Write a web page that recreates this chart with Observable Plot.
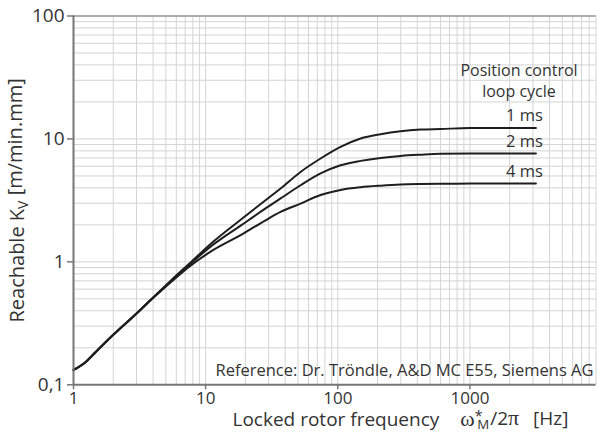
<!DOCTYPE html>
<html><head><meta charset="utf-8">
<script src="https://cdn.jsdelivr.net/npm/d3@7"></script>
<script src="https://cdn.jsdelivr.net/npm/@observablehq/plot@0.6"></script>
<style>body{margin:0;background:#fff}</style>
</head><body><div id="chart"></div>
<script>
// Locked rotor frequency [Hz]
const freq   = [1, 1.25, 1.4, 2, 3, 3.83, 5.42, 7.47, 10.9, 18.4, 28.4, 36.9, 52.3, 74.1, 105, 149, 211, 299, 423, 600, 1000, 3160];
// Reachable Kv [m/min.mm] per position control loop cycle
const kv1ms  = [0.132, 0.155, 0.175, 0.255, 0.38, 0.489, 0.70, 0.96, 1.40, 2.20, 3.17, 3.95, 5.39, 6.93, 8.61, 10.07, 10.92, 11.55, 11.92, 12.05, 12.25, 12.3];
const kv2ms  = [0.132, 0.155, 0.175, 0.255, 0.38, 0.489, 0.69, 0.94, 1.33, 1.97, 2.72, 3.28, 4.20, 5.24, 6.11, 6.63, 7.01, 7.28, 7.45, 7.58, 7.62, 7.62];
const kv4ms  = [0.132, 0.155, 0.175, 0.255, 0.38, 0.487, 0.68, 0.91, 1.21, 1.65, 2.18, 2.55, 2.98, 3.50, 3.85, 4.05, 4.17, 4.26, 4.30, 4.32, 4.33, 4.33];
const seriesNames = ["1 ms", "2 ms", "4 ms"];

const xTicks = [1, 10, 100, 1000];
const xTickLabels = ["1", "10", "100", "1000"];
const yTicks = [0.1, 1, 10, 100];
const yTickLabels = ["0,1", "1", "10", "100"];
const xGrid = [1,2,3,4,5,6,7,8,9,10,20,30,40,50,60,70,80,90,100,200,300,400,500,600,700,800,900,1000,2000,3000,4000,5000,6000,7000,8000,9000];
const yGrid = [0.1,0.2,0.3,0.4,0.5,0.6,0.7,0.8,0.9,1,2,3,4,5,6,7,8,9,10,20,30,40,50,60,70,80,90,100];

const legendTitle = "Position control\nloop cycle";
const refText = "Reference: Dr. Tröndle, A&D MC E55, Siemens AG";
const yLabel = "Reachable KV [m/min.mm]";
const xLabel = "Locked rotor frequency ω*M/2π [Hz]";

const allSeries = [kv1ms, kv2ms, kv4ms];
const rows = [];
allSeries.forEach((vals, i) => freq.forEach((f, j) => rows.push({series: seriesNames[i], f, kv: vals[j]})));
const ends = seriesNames.map((s, i) => ({series: s, f: freq[freq.length - 1], kv: allSeries[i][freq.length - 1]}));

const font = "'Open Sans', sans-serif";
const chart = Plot.plot({
  width: 597, height: 432,
  marginLeft: 73, marginRight: 1.5, marginTop: 15.5, marginBottom: 47.7,
  style: {fontFamily: font, color: "#333", background: "#fff"},
  x: {type: "log", domain: [1, 9000]},
  y: {type: "log", domain: [0.1, 100]},
  marks: [
    Plot.gridX(xGrid, {stroke: "#d4d4d4", strokeOpacity: 1, strokeWidth: 1}),
    Plot.gridY(yGrid, {stroke: "#d4d4d4", strokeOpacity: 1, strokeWidth: 1}),
    Plot.ruleY([100], {stroke: "#999", strokeWidth: 1.5}),
    Plot.axisY(yTicks, {tickFormat: d => yTickLabels[yTicks.indexOf(d)], tickSize: 6, tickPadding: 3, fontSize: 19, label: null}),
    Plot.axisX(xTicks, {tickFormat: d => xTickLabels[xTicks.indexOf(d)], tickSize: 5, tickPadding: 2, fontSize: 17, label: null}),
    Plot.text([refText], {frameAnchor: "bottom-right", dx: -2.5, dy: -14, lineAnchor: "middle", textAnchor: "end", fontSize: 16.5, fill: "#333"}),
    Plot.line(rows, {x: "f", y: "kv", z: "series", stroke: "#1e1e1e", strokeWidth: 2, curve: "monotone-x"}),
    Plot.ruleX([1], {stroke: "#777", strokeWidth: 2}),
    Plot.ruleY([0.1], {stroke: "#777", strokeWidth: 2}),
    Plot.text(ends, {x: "f", y: "kv", text: "series", textAnchor: "end", dx: 7, dy: -12, fontSize: 16.5, fill: "#333"}),
    Plot.text([legendTitle], {frameAnchor: "top-right", dx: -77, dy: 64, lineAnchor: "middle", textAnchor: "middle", lineHeight: 1.3, fontSize: 16, fill: "#333"}),
    Plot.text([yLabel], {frameAnchor: "left", rotate: -90, dx: -56, lineAnchor: "middle", textAnchor: "middle", fontSize: 20, fill: "#333"}),
    Plot.text([xLabel], {frameAnchor: "bottom-left", dx: 159, dy: 35.5, lineAnchor: "middle", textAnchor: "start", fontSize: 19, fill: "#333"})
  ]
});
document.getElementById("chart").appendChild(chart);

const svg = d3.select(chart);
svg.selectAll("[aria-label^='y-axis'], [aria-label^='x-axis']").selectAll("path, line").attr("stroke", "#777").attr("stroke-width", 1.5);
const NS = "http://www.w3.org/2000/svg";
function rebuild(el, parts) {
  while (el.firstChild) el.removeChild(el.firstChild);
  parts.forEach(p => {
    const t = document.createElementNS(NS, "tspan");
    t.textContent = p.t;
    if (p.dy) t.setAttribute("dy", p.dy);
    if (p.dx) t.setAttribute("dx", p.dx);
    if (p.fs) t.setAttribute("font-size", p.fs);
    if (p.ff) t.setAttribute("font-family", p.ff);
    el.appendChild(t);
  });
}
const serif = "'Liberation Serif', serif";
svg.selectAll("text").each(function() {
  const txt = this.textContent;
  if (txt === yLabel) {
    rebuild(this, [{t: "Reachable K"}, {t: "V", dy: "0.3em", fs: "0.7em"}, {t: " [m/min.mm]", dy: "-0.3em"}]);
  } else if (txt === xLabel) {
    rebuild(this, [
      {t: "Locked rotor frequency"},
      {t: "ω", dx: "21", fs: "1.15em", ff: serif},
      {t: "*", dy: "-0.38em", fs: "0.75em"},
      {t: "M", dx: "-0.4em", dy: "0.62em", fs: "0.7em"},
      {t: "/", dx: "1", dy: "-0.24em"},
      {t: "2"},
      {t: "π", fs: "1.15em", ff: serif},
      {t: "[Hz]", dx: "14"}
    ]);
  } else if (txt === refText) {
    const b = this.getBBox();
    const r = document.createElementNS(NS, "rect");
    r.setAttribute("x", b.x - 6); r.setAttribute("y", b.y - 2);
    r.setAttribute("width", b.width + 12); r.setAttribute("height", b.height + 6);
    r.setAttribute("fill", "#fff");
    const g = this.closest("g");
    g.insertBefore(r, g.firstChild);
  }
});
</script>
</body></html>
